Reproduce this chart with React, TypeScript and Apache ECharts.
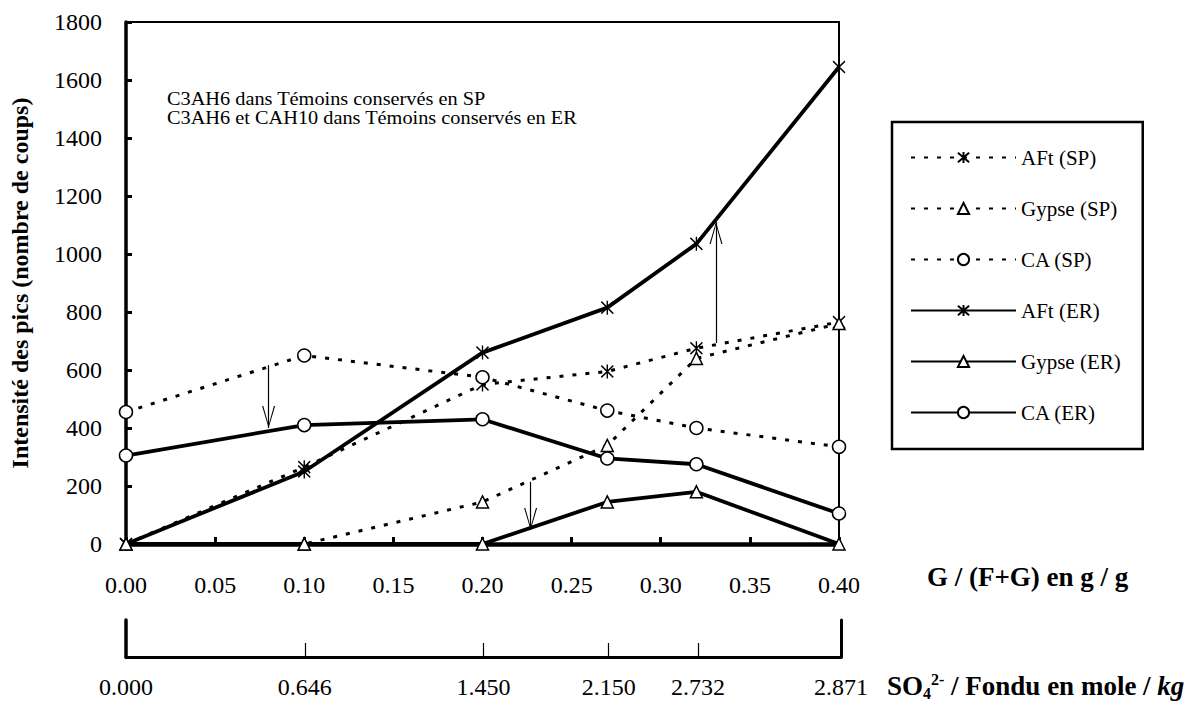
import React, { useEffect, useRef } from 'react';
import * as echarts from 'echarts';

// ---- data ----
const gRatio = [0, 0.1, 0.2, 0.27, 0.32, 0.4];
const sulfateLabels = ['0.000', '0.646', '1.450', '2.150', '2.732', '2.871'];
const aftSP = [0, 265, 550, 595, 675, 765];
const gypseSP = [0, 0, 145, 340, 640, 760];
const caSP = [455, 650, 575, 460, 400, 335];
const aftER = [0, 250, 660, 815, 1035, 1645];
const gypseER = [0, 0, 0, 145, 180, 0];
const caER = [305, 410, 430, 295, 275, 105];
const seriesNames = ['AFt (SP)', 'Gypse (SP)', 'CA (SP)', 'AFt (ER)', 'Gypse (ER)', 'CA (ER)'];
// annotation arrows: [x, start value, tip value]
const arrowX = [0.08, 0.227, 0.331];
const arrowFrom = [617, 214, 693];
const arrowTo = [400, 48, 1110];
const noteLines = ['C3AH6 dans Témoins conservés en SP', 'C3AH6 et CAH10 dans Témoins conservés en ER'];
const yAxisTitle = 'Intensité des pics (nombre de coups)';
const xAxisTitle = 'G / (F+G) en g / g';

const FONT = '"Liberation Serif", "Times New Roman", serif';
const STAR = 'path://M0,1 L10,12 M10,1 L0,12 M5,0 L5,13';
const ARROW = 'path://M0,0 L-6.5,22 L-5.3,22 L0,3 L5.3,22 L6.5,22 Z M0,0 L0,-22 L0,0 Z';

function makeSeries(name: string, vals: number[], symbol: string, dashed: boolean) {
  const isStar = symbol === STAR;
  return {
    type: 'line',
    name,
    data: gRatio.map((x, i) => [x, vals[i]]),
    symbol,
    symbolSize: isStar ? [12, 14] : symbol === 'circle' ? 13 : 12,
    showAllSymbol: true,
    lineStyle: { color: '#000', width: dashed ? 3 : 3.8, type: dashed ? [4, 9] : 'solid' },
    itemStyle: { color: isStar ? '#000' : '#fff', borderColor: '#000', borderWidth: 1.5 },
    z: dashed ? 2 : 3,
    emphasis: { disabled: true },
  } as any;
}

export default function App() {
  const ref = useRef<HTMLDivElement>(null);
  useEffect(() => {
    if (!ref.current) return;
    const chart = echarts.init(ref.current, undefined, { renderer: 'svg' });
    const series = [
      makeSeries(seriesNames[0], aftSP, STAR, true),
      makeSeries(seriesNames[1], gypseSP, 'triangle', true),
      makeSeries(seriesNames[2], caSP, 'circle', true),
      makeSeries(seriesNames[3], aftER, STAR, false),
      makeSeries(seriesNames[4], gypseER, 'triangle', false),
      makeSeries(seriesNames[5], caER, 'circle', false),
    ];
    series[0].markLine = {
      silent: true,
      symbol: ['none', ARROW],
      symbolSize: [13, 44],
      label: { show: false },
      lineStyle: { color: '#000', width: 1.2, type: 'solid' },
      data: arrowX.map((x, i) => [{ coord: [x, arrowFrom[i]] }, { coord: [x, arrowTo[i]] }]),
    };
    const option: any = {
      animation: false,
      textStyle: { fontFamily: FONT, color: '#000' },
      grid: [
        { left: 126, top: 22, width: 713, height: 522, show: true, borderColor: '#000', borderWidth: 2, backgroundColor: 'transparent' },
        { left: 126, top: 620, width: 715, height: 37 },
      ],
      xAxis: [
        {
          type: 'value', gridIndex: 0, min: 0, max: 0.4, interval: 0.05,
          axisLine: { show: true, lineStyle: { color: '#000', width: 4.5 } },
          axisTick: { show: true, inside: true, length: 7, lineStyle: { color: '#000', width: 3 } },
          axisLabel: { fontSize: 24, fontFamily: FONT, color: '#000', margin: 29, formatter: (v: number) => v.toFixed(2) },
          splitLine: { show: false },
          name: xAxisTitle, nameLocation: 'end', nameGap: 88,
          nameTextStyle: { fontSize: 27, fontWeight: 'bold', fontFamily: FONT, color: '#000', verticalAlign: 'top', padding: [19, 0, 0, 0] },
        },
        {
          type: 'value', gridIndex: 1, min: 0, max: 0.4, interval: 0.05,
          axisLine: { show: true, lineStyle: { color: '#000', width: 3 } },
          axisTick: { show: true, inside: true, length: 14, customValues: gRatio.slice(1, 5), lineStyle: { color: '#000', width: 1.2 } },
          axisLabel: {
            fontSize: 24, fontFamily: FONT, color: '#000', margin: 18, customValues: gRatio, showMinLabel: true, showMaxLabel: true,
            formatter: (v: number) => {
              const i = gRatio.findIndex((g) => Math.abs(g - v) < 1e-6);
              return i >= 0 ? sulfateLabels[i] : '';
            },
          },
          splitLine: { show: false },
          name: '{b|SO}{sub|4}{sup|2-}{b| / Fondu en mole / }{i|kg}', nameLocation: 'end', nameGap: 46,
          nameTextStyle: {
            verticalAlign: 'top', padding: [14, 0, 0, 0],
            rich: {
              b: { fontSize: 27, fontWeight: 'bold', fontFamily: FONT, color: '#000', lineHeight: 30 },
              sub: { fontSize: 16, fontWeight: 'bold', fontFamily: FONT, color: '#000', lineHeight: 12, verticalAlign: 'bottom' },
              sup: { fontSize: 16, fontWeight: 'bold', fontFamily: FONT, color: '#000', lineHeight: 12, verticalAlign: 'top' },
              i: { fontSize: 27, fontWeight: 'bold', fontStyle: 'italic', fontFamily: FONT, color: '#000', lineHeight: 30 },
            },
          },
        },
      ],
      yAxis: [
        {
          type: 'value', gridIndex: 0, min: 0, max: 1800, interval: 200,
          axisLine: { show: true, lineStyle: { color: '#000', width: 3.5 } },
          axisTick: { show: true, inside: true, length: 6, lineStyle: { color: '#000', width: 3 } },
          axisLabel: { fontSize: 24, fontFamily: FONT, color: '#000', margin: 24, formatter: (v: number) => String(v) },
          splitLine: { show: false },
          name: yAxisTitle, nameLocation: 'middle', nameGap: 94, nameRotate: 90,
          nameTextStyle: { fontSize: 24, fontWeight: 'bold', fontFamily: FONT, color: '#000' },
        },
        {
          type: 'value', gridIndex: 1, min: 0, max: 1, position: 'left',
          axisLine: { show: true, lineStyle: { color: '#000', width: 3.5 } },
          axisTick: { show: false }, axisLabel: { show: false }, splitLine: { show: false },
        },
        {
          type: 'value', gridIndex: 1, min: 0, max: 1, position: 'right',
          axisLine: { show: true, lineStyle: { color: '#000', width: 3 } },
          axisTick: { show: false }, axisLabel: { show: false }, splitLine: { show: false },
        },
      ],
      legend: {
        orient: 'vertical', left: 892, top: 122,
        padding: [25, 22, 26, 18],
        itemWidth: 105, itemHeight: 14, itemGap: 30,
        borderColor: '#000', borderWidth: 2.5,
        textStyle: { fontFamily: FONT, fontSize: 21, color: '#000', lineHeight: 20 },
        data: seriesNames,
        selectedMode: false,
      },
      graphic: [
        {
          type: 'text', left: 167, top: 89, scaleX: 1.07,
          style: { text: noteLines.join('\n'), font: `19px ${FONT}`, lineHeight: 19, fill: '#000' },
        },
      ],
      series,
    };
    chart.setOption(option);
    return () => chart.dispose();
  }, []);
  return <div ref={ref} style={{ position: 'absolute', left: 0, top: 0, width: 1201, height: 705, background: '#fff' }} />;
}
